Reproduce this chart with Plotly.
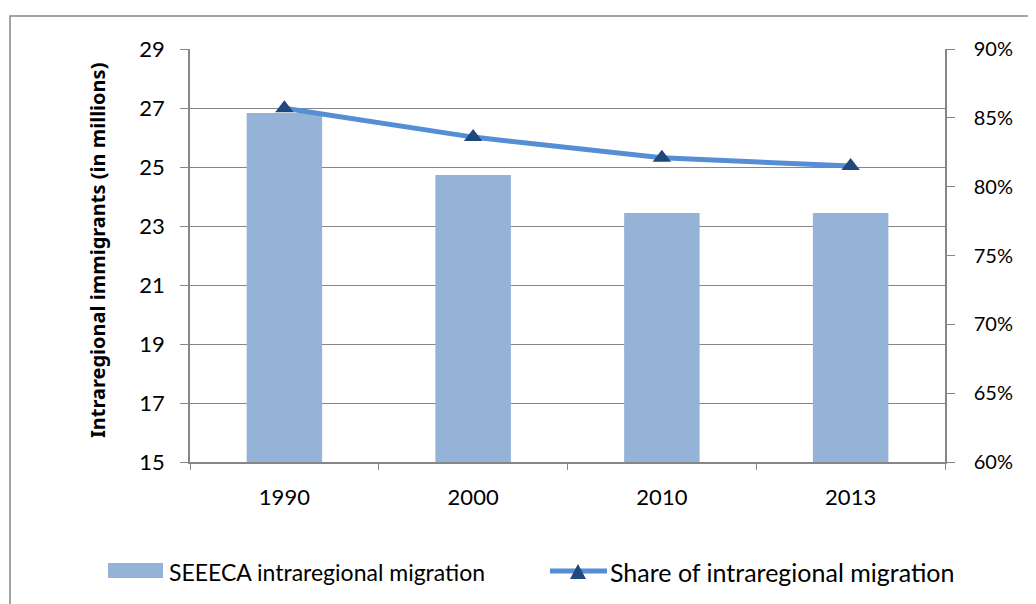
import plotly.graph_objects as go

years = ["1990", "2000", "2010", "2013"]
migrants = [26.83, 24.73, 23.44, 23.44]  # millions
share = [0.857, 0.836, 0.821, 0.815]

bar_name = "SEEECA intraregional migration"
line_name = "Share of intraregional migration"

FONT = "Lato"
GRAY = "#868686"
BAR_COLOR = "#95B3D7"
LINE_COLOR = "#558ED5"
MARKER_COLOR = "#1F497D"

# the page adds an 8px body margin, so the figure is laid out 8px smaller
OFF = 8
W, H = 1036 - OFF, 604 - OFF
# plot area in screenshot pixels: left 190, right 945, top 49, bottom 462
L, R, T, B = 190 - OFF, 945 - OFF, 49 - OFF, 462 - OFF


def px(x):
    # screenshot x pixel -> paper coordinate
    return (x - OFF - L) / (R - L)


def py(y):
    # screenshot y pixel -> paper coordinate
    return (B - (y - OFF)) / (B - T)


fig = go.Figure()
fig.add_trace(go.Bar(
    x=years, y=migrants, name=bar_name,
    marker=dict(color=BAR_COLOR, line=dict(width=0)), width=0.4,
))
fig.add_trace(go.Scatter(
    x=years, y=share, name=line_name, yaxis="y2",
    mode="lines+markers",
    line=dict(color=LINE_COLOR, width=5),
    marker=dict(symbol="triangle-up", size=16, color=MARKER_COLOR),
))

axis_common = dict(showline=True, linecolor=GRAY, linewidth=1.5, ticks="outside",
                   tickcolor=GRAY, automargin=False, zeroline=False)

fig.update_layout(
    width=W, height=H,
    margin=dict(l=L, r=W - R, t=T, b=H - B),
    paper_bgcolor="white", plot_bgcolor="white",
    font=dict(family=FONT, size=22, color="black"),
    showlegend=False,
    xaxis=dict(**axis_common, tickson="boundaries", ticklen=6, showgrid=False,
               ticklabelstandoff=15),
    yaxis=dict(**axis_common, range=[15, 29], dtick=2, tick0=15, ticklen=8,
               gridcolor=GRAY, gridwidth=1.2, ticklabelstandoff=11),
    yaxis2=dict(**axis_common, range=[0.6, 0.9], dtick=0.05, tick0=0.6, tickformat=".0%",
                overlaying="y", side="right", ticklen=8, showgrid=False,
                ticklabelstandoff=15, tickfont=dict(size=20)),
    shapes=[
        # outer chart border
        dict(type="rect", xref="paper", yref="paper",
             x0=px(10), x1=px(1100), y0=py(700), y1=py(16),
             line=dict(color=GRAY, width=1.5), layer="below"),
        # legend symbols
        dict(type="rect", xref="paper", yref="paper",
             x0=px(108), x1=px(163), y0=py(578), y1=py(563),
             fillcolor=BAR_COLOR, line=dict(width=0)),
        dict(type="line", xref="paper", yref="paper",
             x0=px(550), x1=px(607), y0=py(571), y1=py(571),
             line=dict(color=LINE_COLOR, width=5)),
        dict(type="path", xref="paper", yref="paper",
             path=f"M {px(570)},{py(579)} L {px(586)},{py(579)} L {px(578)},{py(564)} Z",
             fillcolor=MARKER_COLOR, line=dict(width=0)),
    ],
    annotations=[
        dict(text="<b>Intraregional immigrants (in millions)</b>", textangle=-90,
             xref="paper", yref="paper", x=px(97), y=py(251),
             xanchor="center", yanchor="middle", showarrow=False,
             font=dict(family="Noto Sans", size=20)),
        dict(text=bar_name, xref="paper", yref="paper", x=px(167), y=py(572),
             xanchor="left", yanchor="middle", showarrow=False, font=dict(size=23)),
        dict(text=line_name, xref="paper", yref="paper", x=px(608), y=py(572),
             xanchor="left", yanchor="middle", showarrow=False, font=dict(size=25)),
    ],
)

fig.write_html("out.html")
